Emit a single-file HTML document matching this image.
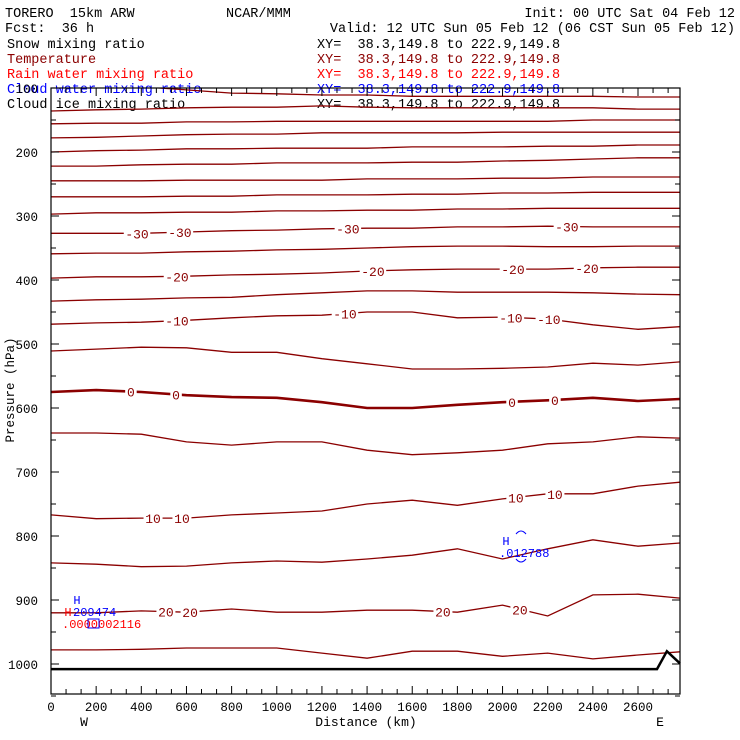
<!DOCTYPE html>
<html><head><meta charset="utf-8">
<style>
body{margin:0;background:#fff;}
svg{display:block;font-family:"Liberation Mono",monospace;}
text{white-space:pre;}
</style></head>
<body>
<svg id="chart" width="740" height="740" viewBox="0 0 740 740" xmlns="http://www.w3.org/2000/svg" xml:space="preserve">
<rect width="740" height="740" fill="#fff"/>
<g id="header" font-size="13.5">
<text x="5" y="17">TORERO  15km ARW</text>
<text x="226" y="17">NCAR/MMM</text>
<text x="735" y="17" text-anchor="end">Init: 00 UTC Sat 04 Feb 12</text>
<text x="5" y="32">Fcst:  36 h</text>
<text x="735" y="32" text-anchor="end">Valid: 12 UTC Sun 05 Feb 12 (06 CST Sun 05 Feb 12)</text>
<text x="7" y="48">Snow mixing ratio</text>
<text x="317" y="48">XY=  38.3,149.8 to 222.9,149.8</text>
<text x="7" y="63" fill="#8b0000">Temperature</text>
<text x="317" y="63" fill="#8b0000">XY=  38.3,149.8 to 222.9,149.8</text>
<text x="7" y="78" fill="#ff0000">Rain water mixing ratio</text>
<text x="317" y="78" fill="#ff0000">XY=  38.3,149.8 to 222.9,149.8</text>
<text x="7" y="93" fill="#0000ff">Cloud water mixing ratio</text>
<text x="317" y="93" fill="#0000ff">XY=  38.3,149.8 to 222.9,149.8</text>
<text x="7" y="108">Cloud ice mixing ratio</text>
<text x="317" y="108">XY=  38.3,149.8 to 222.9,149.8</text>
</g>
<g id="plot"></g>
</svg>
<script>
const xKm = [0,200,400,600,800,1000,1200,1400,1600,1800,2000,2200,2400,2600,2786];
const levels = [-75,-70,-65,-60,-55,-50,-45,-40,-35,-30,-25,-20,-15,-10,-5,0,5,10,15,20,25];
const tM75=[94,95,98,103,108,109,111,111,113,113,113,113,113,114,114];
const tM70=[136,134,133,131,130,130,128,130,131,131,131,131,131,133,133];
const tM65=[156,155,155,153,153,152,152,152,152,152,152,152,150,150,150];
const tM60=[178,177,175,173,172,172,170,170,170,170,169,169,169,169,169];
const tM55=[200,198,197,195,195,194,194,194,192,192,192,191,191,189,189];
const tM50=[222,222,220,219,219,217,217,217,216,216,214,213,211,209,209];
const tM45=[245,245,245,244,244,244,244,242,242,242,241,241,239,239,239];
const tM40=[270,270,270,269,269,267,267,267,266,266,264,264,263,263,263];
const tM35=[297,295,295,294,294,292,292,291,291,289,289,288,288,288,288];
const tM30=[327,327,327,325,323,322,320,319,319,317,317,316,317,317,317];
const tM25=[359,358,358,356,355,353,352,350,348,347,347,348,348,347,347];
const tM20=[397,395,395,394,392,391,389,386,384,383,383,383,381,380,380];
const tM15=[433,431,430,428,427,423,420,417,417,419,419,419,420,422,423];
const tM10=[469,467,466,463,459,456,455,450,450,459,458,461,470,477,473];
const tM5=[511,508,505,506,513,513,523,531,539,539,538,536,530,533,528];
const t0=[575,572,575,580,583,584,591,600,600,595,591,588,584,589,586];
const tP5=[639,639,641,653,658,653,653,666,673,670,666,656,653,645,647];
const tP10=[767,773,772,772,767,764,761,750,744,752,742,734,734,722,716];
const tP15=[842,844,848,847,842,839,841,836,830,820,836,820,806,816,811];
const tP20=[920,920,917,919,914,919,919,916,916,919,908,925,892,891,897];
const tP25=[978,978,977,975,975,975,983,991,980,980,988,983,992,986,981];
const isoP=[tM75,tM70,tM65,tM60,tM55,tM50,tM45,tM40,tM35,tM30,tM25,tM20,tM15,tM10,tM5,t0,tP5,tP10,tP15,tP20,tP25];
const labelLevels=[-30,-30,-30,-30,-20,-20,-20,-20,-10,-10,-10,-10,0,0,0,0,10,10,10,10,20,20,20,20];
const labelKm=[381,571,1315,2285,558,1426,2046,2374,558,1302,2037,2205,354,554,2042,2232,452,580,2059,2232,509,616,1736,2077];
const terrainKm=[0,2684,2728,2786];
const terrainP=[1008,1008,980,999];
const yTicks=[100,200,300,400,500,600,700,800,900,1000];
const xTicks=[0,200,400,600,800,1000,1200,1400,1600,1800,2000,2200,2400,2600];

const L=51,R=680,T=88,B=694;
const X=km=>L+(km-0)*(R-L)/2786;
const Y=p=>152+(p-200)*0.64;
const NS="http://www.w3.org/2000/svg";
const plot=document.getElementById('plot');
function mk(tag,attrs,parent){const e=document.createElementNS(NS,tag);for(const k in attrs)e.setAttribute(k,attrs[k]);(parent||plot).appendChild(e);return e;}
const clip=mk('clipPath',{id:'pc'});mk('rect',{x:L,y:T,width:R-L,height:B-T},clip);
const cg=mk('g',{'clip-path':'url(#pc)'});


levels.forEach((lv,i)=>{
  const pts=xKm.map((k,j)=>X(k).toFixed(1)+','+Y(isoP[i][j]).toFixed(1)).join(' ');
  const pl=mk('polyline',{points:pts,fill:'none',stroke:'#8b0000','stroke-width':lv===0?2.6:1.3},cg);
  
  
});
function interpP(lv,km){const a=isoP[levels.indexOf(lv)];for(let j=0;j<xKm.length-1;j++){if(km>=xKm[j]&&km<=xKm[j+1]){const f=(km-xKm[j])/(xKm[j+1]-xKm[j]);return a[j]+f*(a[j+1]-a[j]);}}return a[a.length-1];}
labelLevels.forEach((lv,i)=>{
  const x=X(labelKm[i]),y=Y(interpP(lv,labelKm[i]));
  const s=String(lv);const w=s.length*7.5+4;
  const r=mk('rect',{x:x-w/2,y:y-6,width:w,height:12,fill:'#fff'},cg);
  
  
  const t=mk('text',{x:x,y:y+5,'text-anchor':'middle','font-size':13,fill:'#8b0000'},cg);
  t.textContent=s;
  
  
});
const tp=mk('polyline',{points:terrainKm.map((k,j)=>X(k).toFixed(1)+','+Y(terrainP[j]).toFixed(1)).join(' '),fill:'none',stroke:'#000','stroke-width':2.5});


const box=mk('rect',{x:L,y:T,width:R-L,height:B-T,fill:'none',stroke:'#000','stroke-width':1.2});


for(let p=100;p<=1050;p+=50){const y=Y(p);const len=(p%100===0)?8:5;
  const t1=mk('line',{x1:L,y1:y,x2:L+len,y2:y,stroke:'#000'});
  const t2=mk('line',{x1:R,y1:y,x2:R-len,y2:y,stroke:'#000'});}
yTicks.forEach(p=>{const t=mk('text',{x:38,y:Y(p)+5,'text-anchor':'end','font-size':12.5});t.textContent=p;
  });
for(let k=0;k<=2786;k+=200/3){const x=X(k);const maj=Math.abs(k/200-Math.round(k/200))<0.01;const len=maj?8:5;
  const t1=mk('line',{x1:x,y1:B,x2:x,y2:B-len,stroke:'#000'});
  const t2=mk('line',{x1:x,y1:T,x2:x,y2:T+len,stroke:'#000'});}
xTicks.forEach(k=>{const t=mk('text',{x:X(k),y:711,'text-anchor':'middle','font-size':12.5});t.textContent=k;
  });
function txt(s,a,name){const t=mk('text',a);t.textContent=s;return t;}
txt('Distance (km)',{x:366,y:726,'text-anchor':'middle','font-size':13},'x-axis-title');
txt('W',{x:84,y:726,'text-anchor':'middle','font-size':13},'west-label');
txt('E',{x:660,y:726,'text-anchor':'middle','font-size':13},'east-label');
txt('Pressure (hPa)',{x:14,y:390,'text-anchor':'middle','font-size':12.5,transform:'rotate(-90 14 390)'},'y-axis-title');
txt('H',{x:77,y:604,'text-anchor':'middle','font-size':12,fill:'#0000ff'},'cloud-water-high-marker');
txt('H',{x:68,y:616,'text-anchor':'middle','font-size':12,fill:'#ff0000'},'rain-high-marker');
txt('209474',{x:73,y:616,'font-size':12,fill:'#0000ff'},'cloud-water-max-value');
txt('.0000002116',{x:62,y:628,'font-size':12,fill:'#ff0000'},'rain-max-value');
const sq=mk('rect',{x:88,y:619,width:11,height:9,fill:'none',stroke:'#0000ff'});
txt('H',{x:506,y:545,'text-anchor':'middle','font-size':12,fill:'#0000ff'},'cloud-water-high-marker-2');
txt('.012788',{x:499,y:557,'font-size':12,fill:'#0000ff'},'cloud-water-max-value-2');
const a1=mk('path',{d:'M516,534 Q521,528 526,534',fill:'none',stroke:'#0000ff'});
const a2=mk('path',{d:'M516,559 Q521,565 526,559',fill:'none',stroke:'#0000ff'});
</script>
</body></html>
